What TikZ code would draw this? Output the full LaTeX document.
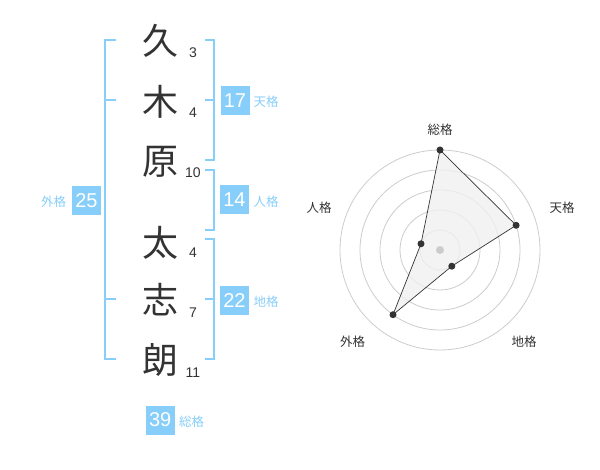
\documentclass[tikz,border=0pt]{standalone}
\usepackage{fontspec}
\setmainfont{Liberation Sans}
\newfontfamily\cjk{Noto Sans CJK JP}
\definecolor{sky}{HTML}{87CEFA}
\definecolor{ink}{HTML}{333333}
\definecolor{ring}{HTML}{CCCCCC}
\definecolor{area}{HTML}{F0F0F0}
\begin{document}
\begin{tikzpicture}[x=1pt,y=-1pt,
  kanji/.style={font=\cjk\fontsize{36}{36}\selectfont, text=ink, inner sep=0pt},
  strokes/.style={font=\fontsize{14}{14}\selectfont, text=ink, inner sep=0pt},
  valbox/.style={fill=sky, text=white, minimum width=29pt, minimum height=29pt, inner sep=0pt, font=\fontsize{20}{20}\selectfont},
  kaku/.style={font=\cjk\fontsize{12.5}{13}\selectfont, text=sky, inner sep=0pt},
  bracket/.style={draw=sky, line width=2pt},
  axislabel/.style={font=\cjk\fontsize{12.5}{13}\selectfont, text=ink, inner sep=0pt},
  ringline/.style={draw=ring, line width=0.8pt},
  dot/.style={circle, fill=ink, minimum size=7pt, inner sep=0pt},
]
\useasboundingbox (0,0) rectangle (600,470);
% kanji
\node[kanji] (k1) at (160,41) {久};
\node[kanji] (k2) at (160,101.5) {木};
\node[kanji] (k3) at (160,161.5) {原};
\node[kanji] (k4) at (160,243) {太};
\node[kanji] (k5) at (160,300) {志};
\node[kanji] (k6) at (160,360) {朗};
% stroke counts
\node[strokes] (s1) at (193,52.5) {3};
\node[strokes] (s2) at (193,113) {4};
\node[strokes] (s3) at (193,172.5) {10};
\node[strokes] (s4) at (193,252.5) {4};
\node[strokes] (s5) at (193,313) {7};
\node[strokes] (s6) at (193,372.5) {11};
% brackets
\coordinate (la) at (115.5,40);
\coordinate (lb) at (105.3,40);
\coordinate (lc) at (105.3,359.5);
\coordinate (ld) at (115.5,359.5);
\coordinate (lt1a) at (105.3,100);
\coordinate (lt1b) at (115.5,100);
\coordinate (lt2a) at (105.3,299.5);
\coordinate (lt2b) at (115.5,299.5);
\draw[bracket] (la) -- (lb) -- (lc) -- (ld);
\draw[bracket] (lt1a) -- (lt1b);
\draw[bracket] (lt2a) -- (lt2b);
\coordinate (ta) at (205,40);
\coordinate (tb) at (214.3,40);
\coordinate (tc) at (214.3,160);
\coordinate (td) at (205,160);
\coordinate (tt1) at (205,100);
\coordinate (tt2) at (214.3,100);
\draw[bracket] (ta) -- (tb) -- (tc) -- (td);
\draw[bracket] (tt1) -- (tt2);
\coordinate (ja) at (205,170.5);
\coordinate (jb) at (214.3,170.5);
\coordinate (jc) at (214.3,230);
\coordinate (jd) at (205,230);
\draw[bracket] (ja) -- (jb) -- (jc) -- (jd);
\coordinate (ca) at (205,239.5);
\coordinate (cb) at (214.3,239.5);
\coordinate (cc) at (214.3,359.5);
\coordinate (cd) at (205,359.5);
\coordinate (ct1) at (205,299.5);
\coordinate (ct2) at (214.3,299.5);
\draw[bracket] (ca) -- (cb) -- (cc) -- (cd);
\draw[bracket] (ct1) -- (ct2);
% value boxes
\node[valbox] (b17) at (235,100.5) {17};
\node[kaku] (l17) at (266,102) {天格};
\node[valbox] (b14) at (234.5,200) {14};
\node[kaku] (l14) at (266,202) {人格};
\node[valbox] (b22) at (234.5,300.5) {22};
\node[kaku] (l22) at (266,302) {地格};
\node[valbox] (b25) at (86.5,200.5) {25};
\node[kaku] (l25) at (53.5,202) {外格};
\node[valbox] (b39) at (160.2,420) {39};
\node[kaku] (l39) at (191.7,421.5) {総格};
% radar
\coordinate (c) at (440,250);
\foreach \r in {20,40,60,80,100} \draw[ringline] (c) circle (\r);
\coordinate (p1) at (440,150);
\coordinate (p2) at (516.1,225.3);
\coordinate (p3) at (451.8,266.2);
\coordinate (p4) at (393.0,314.7);
\coordinate (p5) at (421.0,243.8);
\filldraw[fill=area, fill opacity=0.8, draw=ink, line width=0.7pt] (p1) -- (p2) -- (p3) -- (p4) -- (p5) -- cycle;
\fill[ring] (c) circle (4);
\foreach \p in {p1,p2,p3,p4,p5} \node[dot] at (\p) {};
\node[axislabel] (a1) at (440,130) {総格};
\node[axislabel] (a2) at (562,208) {天格};
\node[axislabel] (a3) at (524,342) {地格};
\node[axislabel] (a4) at (352.5,342) {外格};
\node[axislabel] (a5) at (319,208) {人格};
\end{tikzpicture}
\end{document}
